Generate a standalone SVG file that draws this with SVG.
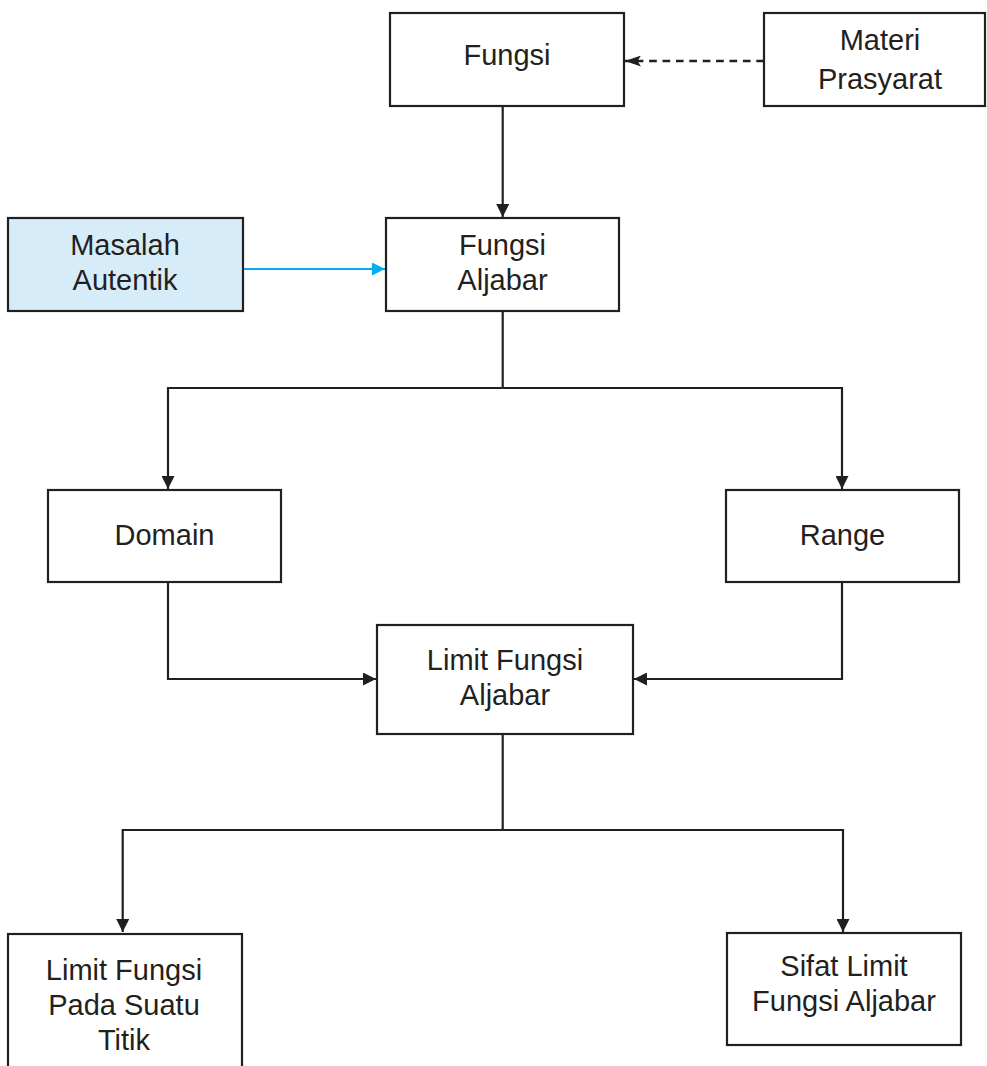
<svg xmlns="http://www.w3.org/2000/svg" width="987" height="1066" viewBox="0 0 987 1066">
<style>
.box{fill:#ffffff;stroke:#231f20;stroke-width:2.2}
.blue{fill:#d6ecf8;stroke:#231f20;stroke-width:2.2}
.t{font-family:"Liberation Sans",Arial,Helvetica,sans-serif;font-size:29px;fill:#231f20;text-anchor:middle}
.ln{fill:none;stroke:#231f20;stroke-width:2.2}
.dash{fill:none;stroke:#231f20;stroke-width:2.6;stroke-dasharray:7.7 5.7}
.bl{fill:none;stroke:#00aeef;stroke-width:2.2}
</style>
<defs>
<marker id="ah" viewBox="0 0 13 13" refX="13" refY="6.5" markerWidth="13" markerHeight="13" markerUnits="userSpaceOnUse" orient="auto">
<path d="M0,0 L13,6.5 L0,13 z" fill="#231f20"/>
</marker>
<marker id="ahb" viewBox="0 0 13 13" refX="13" refY="6.5" markerWidth="13" markerHeight="13" markerUnits="userSpaceOnUse" orient="auto">
<path d="M0,0 L13,6.5 L0,13 z" fill="#00aeef"/>
</marker>
<marker id="ahd" viewBox="0 0 16 11" refX="16" refY="5.5" markerWidth="16" markerHeight="11" markerUnits="userSpaceOnUse" orient="auto">
<path d="M0,0 L16,5.5 L0,11 L3.5,5.5 z" fill="#231f20"/>
</marker>
</defs>
<rect width="987" height="1066" fill="#ffffff"/>
<g id="connectors">
<line class="dash" x1="764" y1="61" x2="625" y2="61" marker-end="url(#ahd)"/>
<line class="ln" x1="502.7" y1="106" x2="502.7" y2="217" marker-end="url(#ah)"/>
<line class="bl" x1="243" y1="269" x2="385" y2="269" marker-end="url(#ahb)"/>
<polyline class="ln" points="502.7,311 502.7,388"/>
<polyline class="ln" points="502.7,388 168,388 168,489" marker-end="url(#ah)"/>
<polyline class="ln" points="502.7,388 842,388 842,489" marker-end="url(#ah)"/>
<polyline class="ln" points="168,582 168,679 376,679" marker-end="url(#ah)"/>
<polyline class="ln" points="842,582 842,679 634,679" marker-end="url(#ah)"/>
<polyline class="ln" points="502.7,734 502.7,830"/>
<polyline class="ln" points="502.7,830 122.7,830 122.7,932" marker-end="url(#ah)"/>
<polyline class="ln" points="502.7,830 843,830 843,932" marker-end="url(#ah)"/>
</g>
<g id="fungsi">
<rect class="box" x="390" y="13" width="234" height="93"/>
<text class="t" x="507" y="65">Fungsi</text>
</g>
<g id="materi">
<rect class="box" x="764" y="13" width="221" height="93"/>
<text class="t" x="880" y="50">Materi</text>
<text class="t" x="880" y="89">Prasyarat</text>
</g>
<g id="masalah">
<rect class="blue" x="8" y="218" width="235" height="93"/>
<text class="t" x="125" y="255">Masalah</text>
<text class="t" x="125" y="290">Autentik</text>
</g>
<g id="fungsi-aljabar">
<rect class="box" x="386" y="218" width="233" height="93"/>
<text class="t" x="502.5" y="255">Fungsi</text>
<text class="t" x="502.5" y="290">Aljabar</text>
</g>
<g id="domain">
<rect class="box" x="48" y="490" width="233" height="92"/>
<text class="t" x="164.5" y="545">Domain</text>
</g>
<g id="range">
<rect class="box" x="726" y="490" width="233" height="92"/>
<text class="t" x="842.5" y="545">Range</text>
</g>
<g id="limit-fungsi-aljabar">
<rect class="box" x="377" y="625" width="256" height="109"/>
<text class="t" x="505" y="670">Limit Fungsi</text>
<text class="t" x="505" y="705">Aljabar</text>
</g>
<g id="limit-titik">
<rect class="box" x="8" y="934" width="234" height="140"/>
<text class="t" x="124" y="980">Limit Fungsi</text>
<text class="t" x="124" y="1015">Pada Suatu</text>
<text class="t" x="124" y="1050">Titik</text>
</g>
<g id="sifat-limit">
<rect class="box" x="727" y="933" width="234" height="112"/>
<text class="t" x="844" y="976">Sifat Limit</text>
<text class="t" x="844" y="1011">Fungsi Aljabar</text>
</g>
</svg>
